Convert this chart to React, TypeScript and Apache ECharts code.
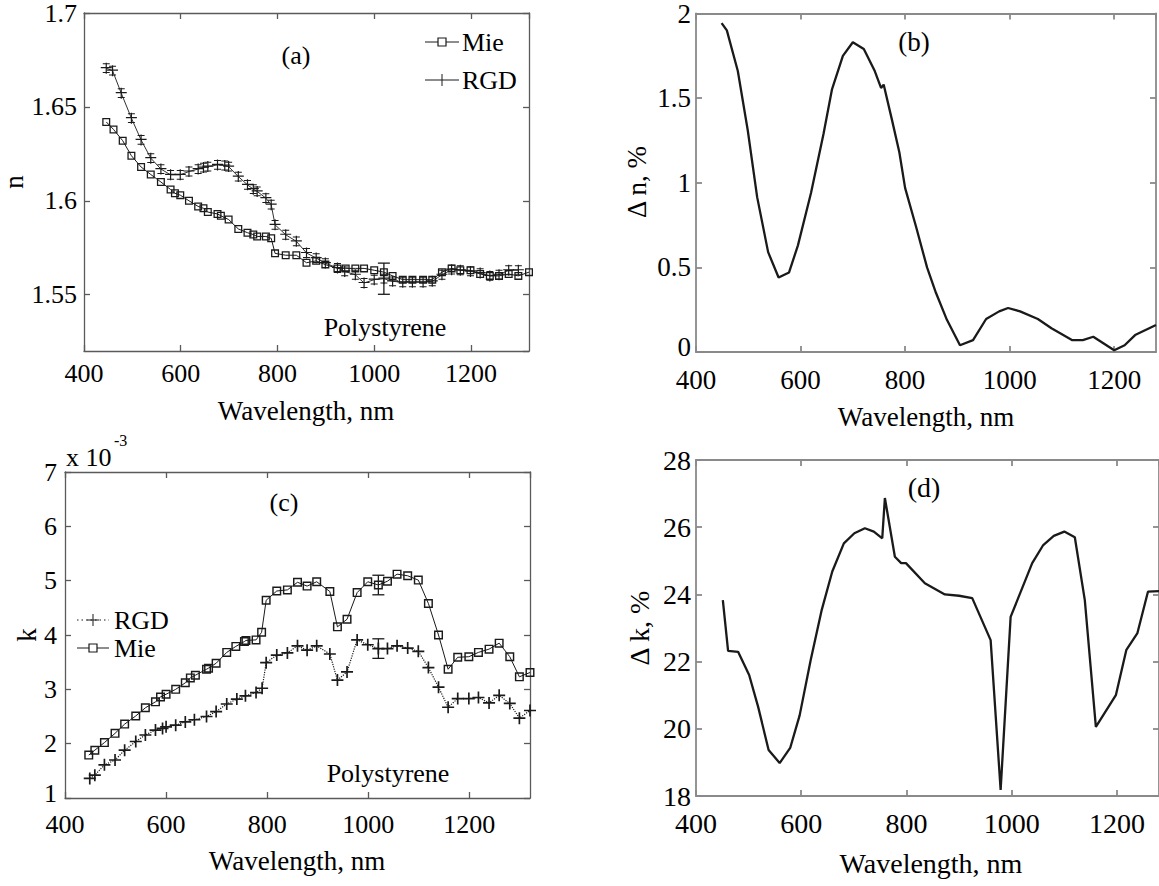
import React, { useEffect, useRef } from "react";
import * as echarts from "echarts";

// ---------- Panel (a): refractive index n ----------
const aMieWl = [446,461,480,498,518,538,559,579,588,599,617,636,647,656,676,683,699,719,738,750,758,776,787,795,817,839,860,880,899,924,941,961,979,1000,1020,1038,1059,1079,1101,1120,1140,1160,1178,1199,1219,1239,1258,1278,1298,1320];
const aMieN = [1.642,1.638,1.632,1.624,1.618,1.614,1.610,1.606,1.604,1.603,1.600,1.597,1.596,1.594,1.593,1.592,1.590,1.585,1.583,1.582,1.581,1.581,1.580,1.572,1.571,1.571,1.567,1.568,1.566,1.564,1.564,1.564,1.564,1.563,1.562,1.560,1.558,1.558,1.558,1.558,1.562,1.564,1.563,1.563,1.561,1.560,1.560,1.561,1.560,1.562];
const aRgdWl = [446,459,477,498,518,538,559,579,599,617,636,647,656,676,691,699,719,738,750,758,776,787,795,817,839,860,880,899,924,939,961,979,1000,1020,1038,1059,1079,1101,1120,1140,1160,1178,1199,1219,1239,1258,1278,1298];
const aRgdN = [1.6706,1.6693,1.6573,1.6440,1.6324,1.6227,1.6169,1.6138,1.6138,1.6156,1.6169,1.6177,1.6182,1.6191,1.6188,1.6182,1.6129,1.6085,1.6062,1.6050,1.6014,1.5979,1.5872,1.5819,1.5784,1.5722,1.5695,1.5668,1.5642,1.5624,1.5606,1.5562,1.5580,1.5585,1.5571,1.5566,1.5566,1.5566,1.5571,1.5606,1.5633,1.5630,1.5624,1.5615,1.5600,1.5606,1.5630,1.5630];
const aErrWl = [1020];
const aErrCenter = [1.5585];
const aErrHalf = [0.0083];

// ---------- Panel (b): delta n, % ----------
const bWl = [449,459,480,499,517,538,558,578,595,620,644,660,681,700,721,742,754,759,775,789,800,821,842,859,880,905,930,955,980,997,1020,1054,1080,1120,1140,1160,1180,1200,1220,1240,1280];
const bVal = [1.943,1.90,1.66,1.31,0.915,0.59,0.44,0.47,0.63,0.94,1.29,1.55,1.75,1.83,1.79,1.66,1.56,1.58,1.37,1.18,0.97,0.74,0.50,0.35,0.19,0.04,0.07,0.195,0.24,0.26,0.24,0.195,0.14,0.07,0.07,0.09,0.05,0.01,0.04,0.10,0.16];

// ---------- Panel (c): absorption index k (x 10^-3) ----------
const cMieWl = [447,459,478,499,518,540,559,579,589,600,619,638,648,658,680,684,699,720,738,755,758,778,789,798,819,840,860,879,898,924,939,958,978,999,1020,1038,1057,1078,1099,1119,1139,1158,1177,1199,1218,1239,1259,1280,1299,1320];
const cMieK = [1.79,1.88,2.02,2.19,2.36,2.51,2.66,2.77,2.86,2.91,3.0,3.12,3.21,3.26,3.37,3.39,3.48,3.68,3.79,3.88,3.9,3.91,4.05,4.64,4.81,4.83,4.97,4.9,4.98,4.8,4.15,4.29,4.78,4.98,4.92,4.99,5.12,5.09,5.01,4.58,4.0,3.37,3.59,3.6,3.68,3.74,3.85,3.6,3.23,3.31];
const cRgdWl = [449,459,478,499,518,540,559,579,593,600,619,638,656,680,699,720,740,757,778,790,798,819,840,860,879,898,924,939,958,978,999,1020,1038,1057,1078,1099,1119,1139,1158,1177,1199,1218,1239,1259,1280,1299,1320];
const cRgdK = [1.36,1.42,1.61,1.70,1.88,2.04,2.16,2.25,2.28,2.31,2.34,2.40,2.44,2.50,2.59,2.73,2.82,2.88,2.94,3.02,3.49,3.63,3.67,3.80,3.72,3.80,3.65,3.17,3.32,3.91,3.82,3.75,3.75,3.80,3.76,3.70,3.40,3.04,2.67,2.83,2.83,2.85,2.75,2.89,2.74,2.47,2.61];
const cErrWl = [1020, 1020];
const cErrCenter = [4.92, 3.75];
const cErrHalf = [0.18, 0.18];

// ---------- Panel (d): delta k, % ----------
const dWl = [451,461,480,501,518,538,559,579,597,618,639,659,681,701,721,738,754,759,778,790,799,835,873,900,925,960,979,998,1039,1060,1080,1100,1120,1139,1160,1198,1218,1239,1259,1280];
const dVal = [23.83,22.32,22.29,21.6,20.66,19.37,18.98,19.43,20.4,22.05,23.54,24.68,25.52,25.82,25.97,25.87,25.67,26.87,25.12,24.93,24.93,24.33,24.0,23.96,23.89,22.64,18.18,23.33,24.93,25.47,25.74,25.87,25.7,23.83,20.06,21.0,22.35,22.85,24.08,24.1];

const FONT = "Liberation Serif";
const INK = "#1a1a1a";
const SQUARE = "path://M0,0H10V10H0Z M1.6,1.6V8.4H8.4V1.6Z";
const PLUS_CAPS = "path://M0,4.4H11V5.6H0Z M4.9,0H6.1V11H4.9Z M2,0.6H9V1.6H2Z M2,9.4H9V10.4H2Z";
const PLUS = "path://M0,4.3H10V5.7H0Z M4.3,0H5.7V10H4.3Z";

const zip = (a: number[], b: number[]) => a.map((x, i) => [x, b[i]]);
const errData = (w: number[], c: number[], h: number[]) => w.map((x, i) => [x, c[i] - h[i], c[i] + h[i]]);
const plain = (v: number) => String(v);

function xPair(grid: number, min: number, max: number, margin: number, color: string, lw: number, fs: number) {
  const base = (pos: string) => ({
    type: "value", gridIndex: grid, position: pos, min, max, interval: 200,
    axisLine: { show: true, onZero: false, lineStyle: { color, width: lw } },
    axisTick: { show: true, inside: true, length: 6, lineStyle: { color, width: lw } },
    splitLine: { show: false },
    axisLabel: pos === "bottom"
      ? { show: true, margin, fontSize: fs, fontFamily: FONT, color: "#000", showMaxLabel: false, formatter: plain }
      : { show: false },
  });
  return [base("bottom"), base("top")];
}

function yPair(grid: number, ext: any, margin: number, color: string, lw: number, fs: number) {
  const { showMin, liftMin, ...range } = ext;
  const fmt = (v: number) => (liftMin && v === range.min ? `{lo|${v}}` : String(v));
  const base = (pos: string) => ({
    type: "value", gridIndex: grid, position: pos, ...range,
    axisLine: { show: true, onZero: false, lineStyle: { color, width: lw } },
    axisTick: { show: true, inside: true, length: 6, lineStyle: { color, width: lw } },
    splitLine: { show: false },
    axisLabel: pos === "left"
      ? {
          show: true, margin, fontSize: fs, fontFamily: FONT, color: "#000",
          showMinLabel: showMin !== false, formatter: fmt,
          rich: { lo: { fontSize: fs, fontFamily: FONT, color: "#000", padding: [0, 0, 10, 0] } },
        }
      : { show: false },
  });
  return [base("left"), base("right")];
}

function errSeries(xi: number, yi: number, data: number[][], cap: number) {
  return {
    type: "custom", xAxisIndex: xi, yAxisIndex: yi, data, z: 5,
    encode: { x: 0, y: [1, 2] },
    renderItem: (params: any, api: any) => {
      const x = api.value(0);
      const p1 = api.coord([x, api.value(1)]);
      const p2 = api.coord([x, api.value(2)]);
      const st = { stroke: INK, lineWidth: 1.3 };
      return {
        type: "group",
        children: [
          { type: "line", shape: { x1: p1[0], y1: p1[1], x2: p2[0], y2: p2[1] }, style: st },
          { type: "line", shape: { x1: p1[0] - cap, y1: p1[1], x2: p1[0] + cap, y2: p1[1] }, style: st },
          { type: "line", shape: { x1: p2[0] - cap, y1: p2[1], x2: p2[0] + cap, y2: p2[1] }, style: st },
        ],
      };
    },
  };
}

const txt = (text: string, x: number, y: number, size = 26, extra: any = {}, rot = 0) => ({
  type: "text", x, y, rotation: rot, z: 20,
  style: { text, fontFamily: FONT, fontSize: size, fill: "#000", align: "center", verticalAlign: "middle", ...extra },
});
const seg = (x1: number, y1: number, x2: number, y2: number, dash: any = null) => ({
  type: "line", z: 20, shape: { x1, y1, x2, y2 },
  style: { stroke: INK, lineWidth: 1, lineDash: dash },
});

export default function App() {
  const ref = useRef<HTMLDivElement>(null);
  useEffect(() => {
    document.body.style.margin = "0";
    const chart = echarts.init(ref.current!, null, { renderer: "svg" });
    const gA = "#5a5a5a";
    const gB = "#8a8a8a";
    const option: any = {
      animation: false,
      backgroundColor: "#fff",
      textStyle: { fontFamily: FONT },
      grid: [
        { left: 84, top: 13, width: 445, height: 338 },
        { left: 696, top: 13, width: 460, height: 339 },
        { left: 65, top: 472, width: 465, height: 326 },
        { left: 696, top: 460, width: 471, height: 336 },
      ],
      xAxis: [
        ...xPair(0, 400, 1320, 9, gA, 1.3, 26),
        ...xPair(1, 400, 1280, 14, gB, 1.8, 27),
        ...xPair(2, 400, 1320, 13, gA, 1.3, 26),
        ...xPair(3, 400, 1280, 13, gB, 1.8, 28),
      ],
      yAxis: [
        ...yPair(0, { min: 1.52, max: 1.7, splitNumber: 4, showMin: false }, 7, gA, 1.3, 26),
        ...yPair(1, { min: 0, max: 2, interval: 0.5, liftMin: true }, 5, gB, 1.8, 27),
        ...yPair(2, { min: 1, max: 7, interval: 1, liftMin: true }, 8, gA, 1.3, 26),
        ...yPair(3, { min: 18, max: 28, interval: 2 }, 5, gB, 1.8, 28),
      ],
      series: [
        {
          name: "Mie", type: "line", xAxisIndex: 0, yAxisIndex: 0, data: zip(aMieWl, aMieN),
          symbol: SQUARE, symbolSize: 8, showAllSymbol: true,
          itemStyle: { color: INK }, lineStyle: { color: INK, width: 1 },
        },
        {
          name: "RGD", type: "line", xAxisIndex: 0, yAxisIndex: 0, data: zip(aRgdWl, aRgdN),
          symbol: PLUS_CAPS, symbolSize: 11, showAllSymbol: true,
          itemStyle: { color: INK }, lineStyle: { color: INK, width: 0.9 },
        },
        errSeries(0, 0, errData(aErrWl, aErrCenter, aErrHalf), 6),
        {
          name: "Δn", type: "line", xAxisIndex: 2, yAxisIndex: 2, data: zip(bWl, bVal),
          symbol: "none", lineStyle: { color: INK, width: 2.3 },
        },
        {
          name: "Mie", type: "line", xAxisIndex: 4, yAxisIndex: 4, data: zip(cMieWl, cMieK),
          symbol: SQUARE, symbolSize: 9, showAllSymbol: true,
          itemStyle: { color: INK }, lineStyle: { color: INK, width: 1 },
        },
        {
          name: "RGD", type: "line", xAxisIndex: 4, yAxisIndex: 4, data: zip(cRgdWl, cRgdK),
          symbol: PLUS, symbolSize: 12, showAllSymbol: true,
          itemStyle: { color: INK }, lineStyle: { color: INK, width: 1.2, type: "dotted" },
        },
        errSeries(4, 4, errData(cErrWl, cErrCenter, cErrHalf), 6),
        {
          name: "Δk", type: "line", xAxisIndex: 6, yAxisIndex: 6, data: zip(dWl, dVal),
          symbol: "none", lineStyle: { color: INK, width: 2.3 },
        },
      ],
      graphic: [
        // panel labels
        txt("(a)", 296, 55),
        txt("(b)", 914, 42, 27),
        txt("(c)", 284, 502),
        txt("(d)", 924, 487, 28),
        txt("Polystyrene", 385, 327),
        txt("Polystyrene", 388, 773),
        // axis titles
        txt("Wavelength, nm", 306, 411, 27),
        txt("Wavelength, nm", 926, 417, 27),
        txt("Wavelength, nm", 297, 861, 27),
        txt("Wavelength, nm", 931, 863, 28),
        txt("n", 14, 182, 27, {}, Math.PI / 2),
        txt("Δ n, %", 637, 182, 27, {}, Math.PI / 2),
        txt("k", 27, 635, 27, {}, Math.PI / 2),
        txt("Δ k, %", 639, 628, 28, {}, Math.PI / 2),
        // exponent
        txt("x 10", 66, 457, 26, { align: "left" }),
        txt("-3", 114, 440, 16, { align: "left" }),
        // legend (a)
        seg(425, 42, 459, 42),
        { type: "rect", z: 21, shape: { x: 438, y: 38, width: 8, height: 8 }, style: { fill: "#fff", stroke: INK, lineWidth: 1.2 } },
        txt("Mie", 462, 42, 26, { align: "left" }),
        seg(425, 80, 459, 80),
        seg(442, 74, 442, 86),
        txt("RGD", 462, 80, 26, { align: "left" }),
        // legend (c)
        seg(77, 620, 109, 620, [1.5, 3]),
        seg(87, 620, 99, 620),
        seg(93, 614, 93, 626),
        txt("RGD", 114, 620, 26, { align: "left" }),
        seg(77, 648, 109, 648),
        { type: "rect", z: 21, shape: { x: 89, y: 644, width: 8, height: 8 }, style: { fill: "#fff", stroke: INK, lineWidth: 1.2 } },
        txt("Mie", 114, 648, 26, { align: "left" }),
      ],
    };
    chart.setOption(option);
    return () => chart.dispose();
  }, []);
  return <div ref={ref} style={{ width: 1159, height: 886, background: "#fff" }} />;
}
